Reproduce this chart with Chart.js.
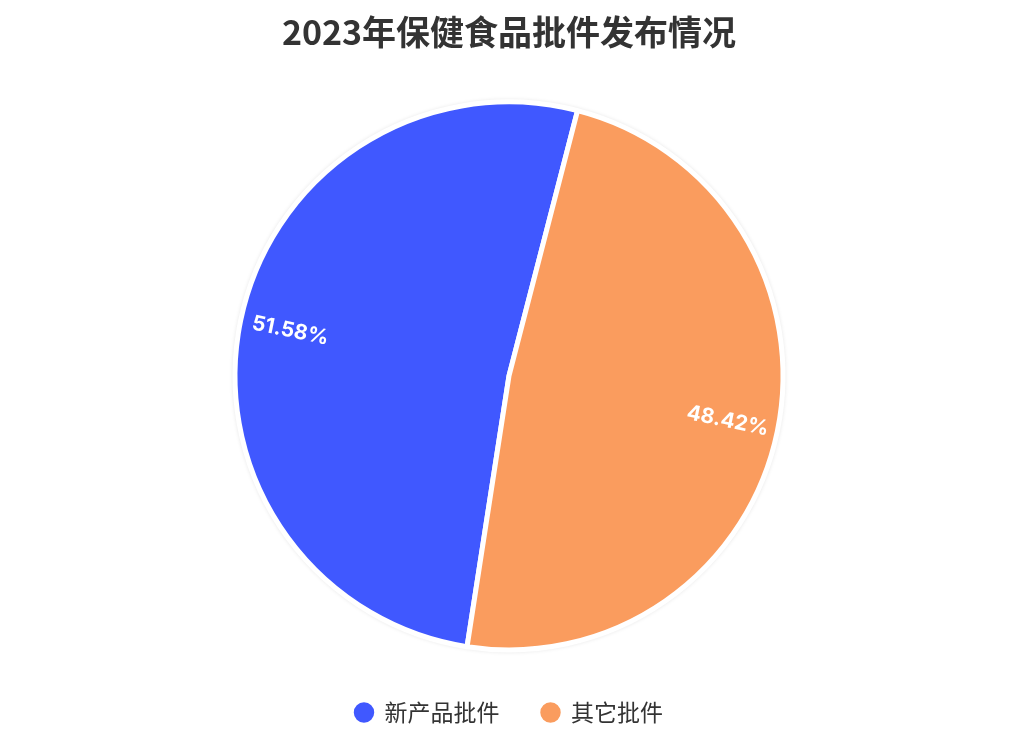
<!DOCTYPE html>
<html>
<head>
<meta charset="utf-8">
<script src="https://cdn.jsdelivr.net/npm/chart.js@4/dist/chart.umd.min.js"></script>
<style>
  html, body { margin: 0; padding: 0; background: #fff; }
  #wrap { width: 1034px; height: 747px; }
</style>
</head>
<body>
<div id="wrap"><canvas id="pieChart"></canvas></div>
<script>
// chart data
const categories = ['新产品批件', '其它批件'];
const shares = [51.58, 48.42];
const sliceColors = ['#4058FF', '#FA9C5E'];

const FONT = '"Noto Sans CJK SC", "Noto Sans", sans-serif';

// soft grey ring behind the pie
const pieShadow = {
  id: 'pieShadow',
  beforeDatasetsDraw(chart) {
    const arc = chart.getDatasetMeta(0).data[0];
    if (!arc) return;
    const ctx = chart.ctx;
    ctx.save();
    ctx.shadowColor = 'rgba(0,0,0,0.18)';
    ctx.shadowBlur = 5;
    ctx.fillStyle = '#fff';
    ctx.beginPath();
    ctx.arc(arc.x, arc.y, arc.outerRadius + 1, 0, Math.PI * 2);
    ctx.fill();
    ctx.restore();
  }
};

// percentage labels rotated along the slice radius
const sliceLabels = {
  id: 'sliceLabels',
  afterDatasetsDraw(chart) {
    const ctx = chart.ctx;
    const values = chart.data.datasets[0].data;
    chart.getDatasetMeta(0).data.forEach((arc, i) => {
      const mid = (arc.startAngle + arc.endAngle) / 2;
      const r = arc.outerRadius * 0.815;
      const x = arc.x + Math.cos(mid) * r;
      const y = arc.y + Math.sin(mid) * r;
      let rot = mid;
      if (Math.cos(mid) < 0) rot += Math.PI;
      ctx.save();
      ctx.translate(x, y);
      ctx.rotate(rot);
      ctx.font = 'bold 21px Inter, "Noto Sans", sans-serif';
      ctx.fillStyle = '#fff';
      ctx.textAlign = 'center';
      ctx.textBaseline = 'middle';
      ctx.fillText(values[i].toFixed(2) + '%', 0, 0);
      ctx.restore();
    });
  }
};

function createPie() {
  const ctx = document.getElementById('pieChart').getContext('2d');
  new Chart(ctx, {
    type: 'pie',
    data: {
      labels: categories,
      datasets: [{
        data: shares,
        backgroundColor: sliceColors,
        borderColor: '#fff',
        borderWidth: 5,
        hoverOffset: 0
      }]
    },
    options: {
      responsive: true,
      maintainAspectRatio: false,
      animation: false,
      rotation: 188.8,
      radius: 274,
      layout: { padding: { left: 0, right: 16, top: 0, bottom: 13 } },
      plugins: {
        title: {
          display: true,
          text: '2023年保健食品批件发布情况',
          color: '#333',
          font: { family: FONT, size: 34, weight: 'bold' },
          padding: { top: 12, bottom: 40 }
        },
        legend: {
          position: 'bottom',
          labels: {
            color: '#333',
            font: { family: FONT, size: 23 },
            usePointStyle: true,
            pointStyle: 'circle',
            boxWidth: 18,
            boxHeight: 18,
            padding: 42
          }
        },
        tooltip: { enabled: false }
      }
    },
    plugins: [pieShadow, sliceLabels]
  });
}

window.addEventListener('DOMContentLoaded', createPie);
</script>
</body>
</html>
